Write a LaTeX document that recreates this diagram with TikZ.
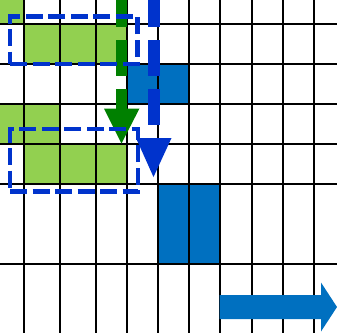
\documentclass[tikz,border=0pt]{standalone}
\definecolor{lgreen}{RGB}{146,208,80}
\definecolor{dgreen}{RGB}{0,128,0}
\definecolor{dblue}{RGB}{0,51,204}
\definecolor{cblue}{RGB}{0,112,192}
\begin{document}
\begin{tikzpicture}[x=1pt,y=-1pt,
  gridline/.style={black,line width=2pt},
  gcell/.style={fill=lgreen},
  bcell/.style={fill=cblue},
  selbox/.style={draw=dblue,line width=4.5pt,dash pattern=on 17pt off 5.5pt},
  shaft/.style={line width=11.5pt,dash pattern=on 36pt off 13pt}]
\useasboundingbox (0,0) rectangle (337,333);
\fill[white] (0,0) rectangle (337,333);
% cells
\fill[gcell] (0,0) rectangle (24,24);
\fill[gcell] (24,24) rectangle (126.5,64);
\fill[gcell] (0,104) rectangle (60,144);
\fill[gcell] (24,144) rectangle (126.5,184);
\fill[bcell] (126.5,64) rectangle (189,104);
\fill[bcell] (158,184) rectangle (220,264);
% grid
\foreach \x in {24,60,96,126.5,158,189,220,252,283,314}
  \draw[gridline] (\x,0) -- (\x,333);
\foreach \y in {24,64,104,144,184,264}
  \draw[gridline] (0,\y) -- (337,\y);
% green dashed arrow
\coordinate (gs) at (121.5,-9);
\coordinate (ge) at (121.5,108.5);
\coordinate (gt) at (121.5,143.5);
\draw[shaft,dgreen] (gs) -- (ge);
\fill[dgreen] (104,108.5) -- (139.5,108.5) -- (gt) -- cycle;
% blue dashed arrow
\coordinate (bs) at (154,-9);
\coordinate (be) at (154,138);
\coordinate (bt) at (153.5,177);
\draw[shaft,dblue] (bs) -- (be);
\fill[dblue] (136,138) -- (171.5,138) -- (bt) -- cycle;
% selection boxes (drawn over the green arrow)
\draw[selbox] (10,64) -- (137.5,64) -- (137.5,16.5) -- (10,16.5) -- cycle;
\draw[selbox] (10,191.5) -- (138,191.5) -- (138,129) -- (10,129) -- cycle;
% bottom block arrow
\fill[cblue] (219.5,295) -- (321,295) -- (321,282.5) -- (337,307) -- (321,331.5) -- (321,319) -- (219.5,319) -- cycle;
\end{tikzpicture}
\end{document}
